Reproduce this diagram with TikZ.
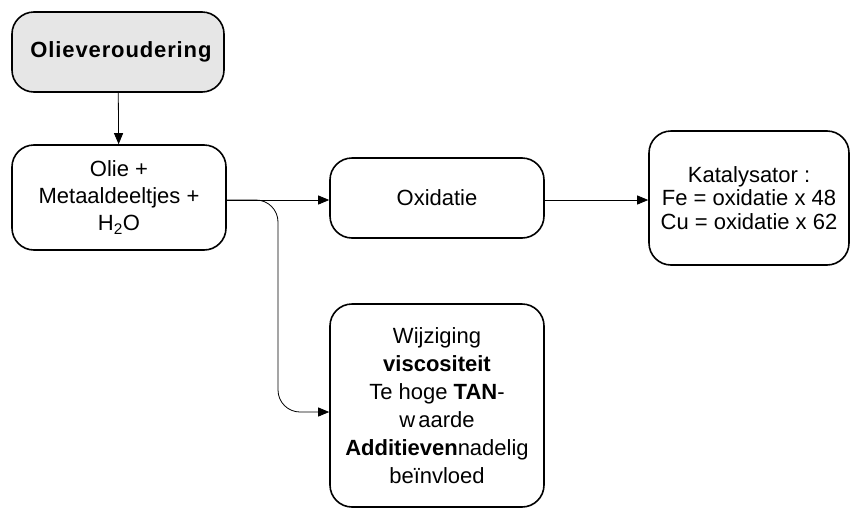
\documentclass[tikz,border=0pt]{standalone}
\usepackage{fontspec}
\setmainfont{Liberation Sans}
\usetikzlibrary{arrows.meta}
\tikzset{
  box/.style={draw=black, line width=1.6pt, rounded corners=22pt, fill=white,
    align=center, inner sep=0pt, text=black},
  conn/.style={draw=black, line width=0.8pt, -{Triangle[length=11pt,width=9pt]}},
  txt/.style={font=\fontsize{22}{#1}\selectfont}
}
\begin{document}
\begin{tikzpicture}[x=1pt,y=-1pt]
  \useasboundingbox (0,0) rectangle (852,509);

  \node[box, fill={rgb,255:red,230;green,230;blue,230}, minimum width=212pt, minimum height=80pt,
        font=\fontsize{22}{26}\selectfont\bfseries\addfontfeature{LetterSpace=4}]
        (start) at (118,52) {\hspace*{6pt}Olieveroudering};

  \node[box, minimum width=214pt, minimum height=105pt, txt=27]
        (mix) at (119,197.5) {Olie +\\Metaaldeeltjes +\\H\textsubscript{2}O};

  \node[box, minimum width=214pt, minimum height=80pt, txt=26]
        (ox) at (437,198) {Oxidatie};

  \node[box, minimum width=200pt, minimum height=134pt, txt=23.5]
        (kat) at (749,198) {Katalysator :\\Fe = oxidatie x 48\\Cu = oxidatie x 62};

  \node[box, minimum width=214pt, minimum height=203pt, txt=28]
        (wij) at (437,405.5) {Wijziging\\\textbf{viscositeit}\\Te hoge \textbf{TAN}-\\w\kern3pt aarde\\\textbf{Additieven}nadelig\\beïnvloed};

  % connectors
  \draw[conn] (start) -- (mix);
  \draw[conn] (mix.east |- 0,200) -- (ox.west |- 0,200);
  \draw[conn] (ox.east |- 0,200) -- (kat.west |- 0,200);
  \coordinate (bend) at (278,200);
  \draw[conn, rounded corners=22pt] (mix.east |- 0,200) -- (bend) |- (wij.west |- 0,412);
\end{tikzpicture}
\end{document}
